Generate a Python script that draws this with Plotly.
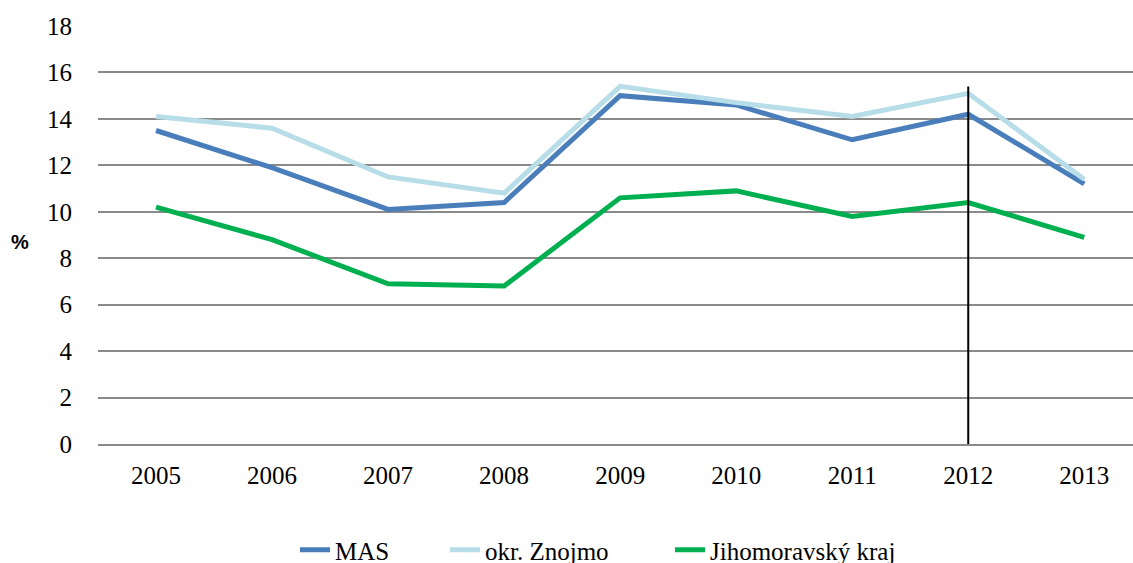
import plotly.graph_objects as go

years = ["2005", "2006", "2007", "2008", "2009", "2010", "2011", "2012", "2013"]
mas = [13.5, 11.9, 10.1, 10.4, 15.0, 14.6, 13.1, 14.2, 11.2]
znojmo = [14.1, 13.6, 11.5, 10.8, 15.4, 14.7, 14.1, 15.1, 11.4]
jmk = [10.2, 8.8, 6.9, 6.8, 10.6, 10.9, 9.8, 10.4, 8.9]
y_ticks = [0, 2, 4, 6, 8, 10, 12, 14, 16, 18]
marker_year = "2012"
marker_top = 15.4

SERIF = "Liberation Serif, Times New Roman, serif"
GRID = "#8a8a8a"

# plot area geometry (pixels)
L, T, W, H = 98, 26, 1035, 418


def px_x(px):
    return (px - L) / W


def px_y(py):
    return (T + H - py) / H


fig = go.Figure()
fig.add_trace(go.Scatter(x=years, y=mas, mode="lines", name="MAS", legend="legend",
                         line=dict(color="#4A7EBB", width=5)))
fig.add_trace(go.Scatter(x=years, y=znojmo, mode="lines", name="okr. Znojmo", legend="legend2",
                         line=dict(color="#B7DDE8", width=5)))
fig.add_trace(go.Scatter(x=years, y=jmk, mode="lines", name="Jihomoravský kraj", legend="legend3",
                         line=dict(color="#00B050", width=5)))

mi = years.index(marker_year)
fig.add_shape(type="line", xref="x", yref="y", x0=mi, x1=mi,
              y0=0, y1=marker_top, line=dict(color="black", width=2), layer="above")

leg_common = dict(orientation="h", yanchor="middle", y=px_y(550), xanchor="left",
                  font=dict(family=SERIF, size=25, color="black"),
                  bgcolor="rgba(0,0,0,0)", borderwidth=0)

fig.update_layout(
    width=1133, height=563,
    margin=dict(l=L, r=1133 - L - W, t=T, b=563 - T - H, autoexpand=False),
    plot_bgcolor="white", paper_bgcolor="white",
    font=dict(family=SERIF, size=25, color="black"),
    showlegend=True,
    legend=dict(x=px_x(337 - 42), **leg_common),
    legend2=dict(x=px_x(487 - 42), **leg_common),
    legend3=dict(x=px_x(712 - 42), **leg_common),
    xaxis=dict(type="category", range=[-0.5, 8.42], showgrid=False, zeroline=False,
               showline=True, linecolor=GRID, linewidth=1.5,
               ticks="outside", ticklen=8, tickcolor="rgba(0,0,0,0)",
               tickfont=dict(family=SERIF, size=25)),
    yaxis=dict(range=[0, 18], tickvals=y_ticks, showgrid=True, gridcolor=GRID,
               gridwidth=1.5, zeroline=False, showline=False, ticks="outside",
               ticklen=20, tickcolor="rgba(0,0,0,0)",
               tickfont=dict(family=SERIF, size=25)),
    annotations=[dict(text="<b>%</b>", xref="paper", yref="paper", x=px_x(20), y=px_y(242),
                      xanchor="center", yanchor="middle", showarrow=False,
                      font=dict(family="Liberation Sans, Arial, sans-serif", size=20, color="black"))],
)

fig.write_html("out.html", config={"displayModeBar": False},
               post_script="document.body.style.margin='0px';document.body.style.overflow='hidden';")
